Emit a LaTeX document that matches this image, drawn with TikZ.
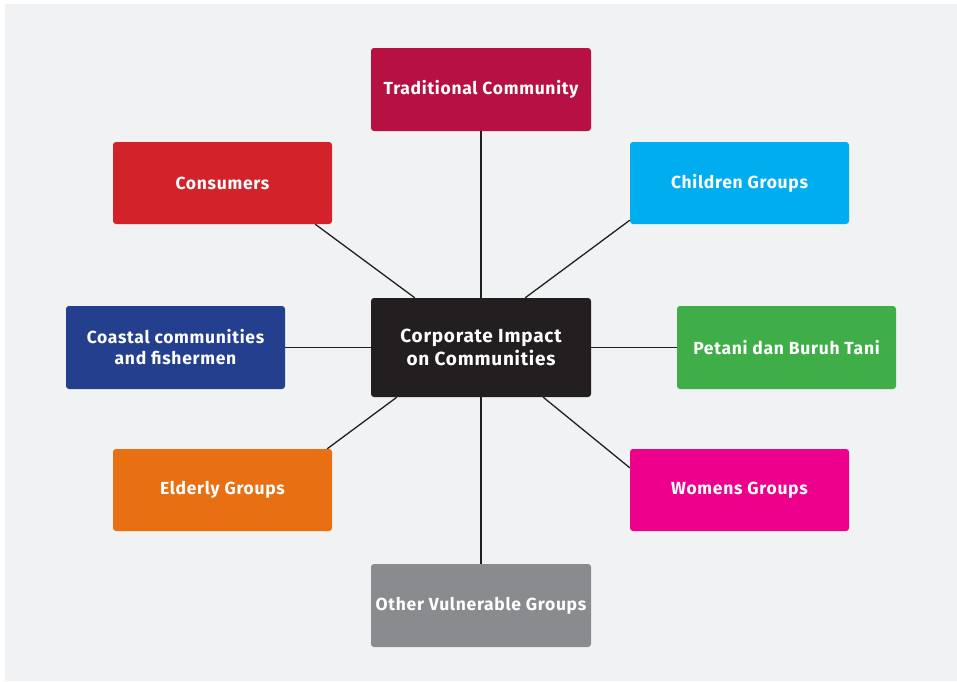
\documentclass[tikz,border=0pt]{standalone}
\usepackage{fontspec}
\setmainfont{Fira Sans}[LetterSpace=4]
\definecolor{bggray}{HTML}{F1F2F4}
\definecolor{ctrad}{HTML}{B71143}
\definecolor{ccons}{HTML}{D2232A}
\definecolor{cchild}{HTML}{00AEEF}
\definecolor{ccoast}{HTML}{253F8F}
\definecolor{ccenter}{HTML}{231F20}
\definecolor{cpetani}{HTML}{3FAE49}
\definecolor{celder}{HTML}{E87012}
\definecolor{cwomen}{HTML}{EC008C}
\definecolor{cother}{HTML}{8A8B8E}
\tikzset{
  box/.style={rectangle, rounded corners=3pt, minimum width=219pt, minimum height=82pt,
    text=white, font=\fontsize{17.5}{21}\selectfont\bfseries, align=center, inner sep=0pt},
  link/.style={draw=ccenter, line width=1.3pt}
}
\begin{document}
\begin{tikzpicture}[x=1pt,y=-1pt]
\useasboundingbox (0,0) rectangle (957,681);
\fill[white] (0,0) rectangle (957,681);
\fill[bggray] (5,4) rectangle (957,681);

\node[box, fill=ctrad, minimum width=220pt, minimum height=83pt] (trad) at (481,89.5) {Traditional Community};
\node[box, fill=ccons] (cons) at (222.5,183) {Consumers};
\node[box, fill=cchild] (child) at (739.5,183) {Children Groups};
\node[box, fill=ccoast, minimum height=83pt] (coast) at (175.5,347.5) {Coastal communities\\and fishermen};
\node[box, fill=ccenter, minimum width=220pt, minimum height=99pt, font=\fontsize{19}{23.3}\selectfont\bfseries] (center) at (481,347.5) {Corporate Impact\\on Communities};
\node[box, fill=cpetani, minimum height=83pt] (petani) at (786.5,347.5) {Petani dan Buruh Tani};
\node[box, fill=celder] (elder) at (222.5,490) {Elderly Groups};
\node[box, fill=cwomen] (women) at (739.5,490) {Womens Groups};
\node[box, fill=cother, minimum width=220pt, minimum height=83pt] (other) at (481,605.5) {Other Vulnerable Groups};

\draw[link] (trad.south) -- (center.north);
\draw[link] ([xshift=-17pt]cons.south east) -- ([xshift=44pt]center.north west);
\draw[link] ([yshift=4pt]child.south west) -- ([xshift=-66pt]center.north east);
\draw[link] (coast.east) -- (center.west);
\draw[link] (center.east) -- (petani.west);
\draw[link] ([xshift=-5pt]elder.north east) -- ([xshift=26pt]center.south west);
\draw[link] ([xshift=-48pt]center.south east) -- ([yshift=-19pt]women.north west);
\draw[link] (center.south) -- (other.north);
\end{tikzpicture}
\end{document}
